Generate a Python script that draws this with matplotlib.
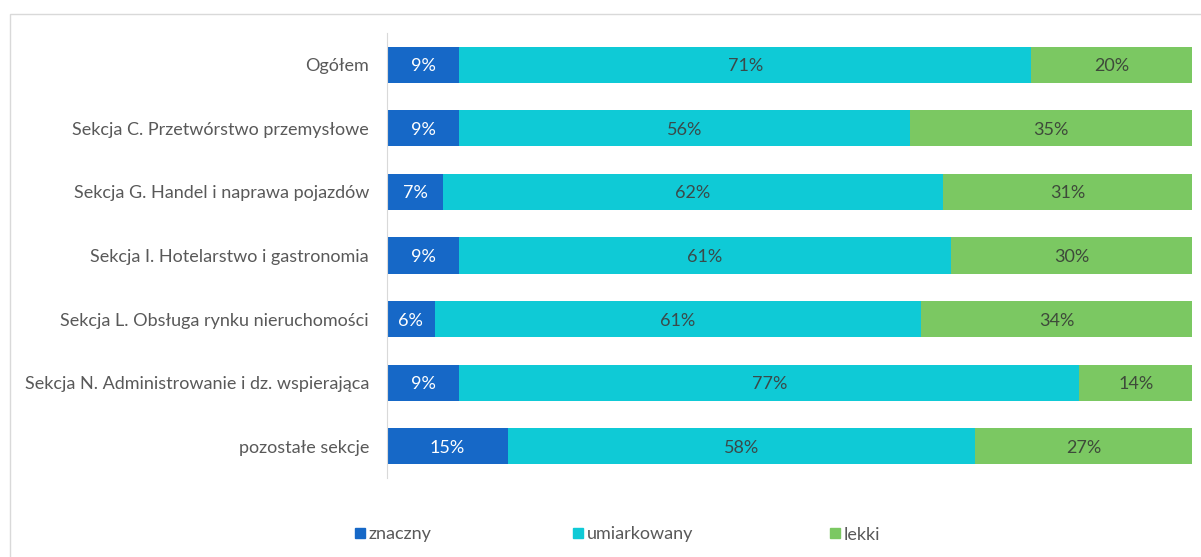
import matplotlib.pyplot as plt
from matplotlib.patches import Rectangle

plt.rcParams['font.family'] = ['Lato', 'DejaVu Sans']

kategorie = ['Ogółem',
             'Sekcja C. Przetwórstwo przemysłowe',
             'Sekcja G. Handel i naprawa pojazdów',
             'Sekcja I. Hotelarstwo i gastronomia',
             'Sekcja L. Obsługa rynku nieruchomości',
             'Sekcja N. Administrowanie i dz. wspierająca',
             'pozostałe sekcje']
znaczny = [9, 9, 7, 9, 6, 9, 15]
umiarkowany = [71, 56, 62, 61, 61, 77, 58]
lekki = [20, 35, 31, 30, 34, 14, 27]

serie = ['znaczny', 'umiarkowany', 'lekki']
kolory = ['#1668C7', '#0FCAD6', '#7BC862']
kolory_etykiet = ['white', '#3A4A4A', '#3E4A3A']

fig = plt.figure(figsize=(12.01, 5.57), dpi=100)
ax = fig.add_axes([0.3222, 0.1418, 0.6705, 0.7990])

# ramka wykresu
fig.patches.append(Rectangle((10 / 1201, -0.1), 1.2, 1 - 14 / 557 + 0.1,
                             transform=fig.transFigure, fill=False,
                             edgecolor='#D9D9D9', linewidth=1))

y = list(range(len(kategorie)))
sumy = [a + b + c for a, b, c in zip(znaczny, umiarkowany, lekki)]
lewo = [0] * len(kategorie)
for dane, kolor, kol_et in zip([znaczny, umiarkowany, lekki], kolory, kolory_etykiet):
    szer = [d / s * 100 for d, s in zip(dane, sumy)]
    ax.barh(y, szer, left=lewo, height=0.57, color=kolor)
    for yi, l, w, d in zip(y, lewo, szer, dane):
        ax.text(l + w / 2, yi, f'{d}%', ha='center', va='center_baseline',
                fontsize=13, color=kol_et)
    lewo = [l + w for l, w in zip(lewo, szer)]

ax.set_xlim(0, 100)
ax.set_ylim(len(kategorie) - 0.5, -0.5)
ax.set_yticks(y)
ax.set_yticklabels(kategorie, fontsize=13, color='#595959', va='center_baseline')
ax.tick_params(axis='y', length=0, pad=13)
ax.set_xticks([])
for s in ['top', 'right', 'bottom']:
    ax.spines[s].set_visible(False)
ax.spines['left'].set_color('#D9D9D9')

# legenda
pozycje = [355, 573, 830]
for nazwa, kolor, px in zip(serie, kolory, pozycje):
    fig.patches.append(Rectangle((px / 1201, 1 - 538 / 557), 10 / 1201, 10 / 557,
                                 transform=fig.transFigure, color=kolor))
    fig.text((px + 14) / 1201, 1 - 533 / 557, nazwa, fontsize=13,
             color='#595959', va='center_baseline', ha='left')

fig.savefig('out.png', dpi=100)
